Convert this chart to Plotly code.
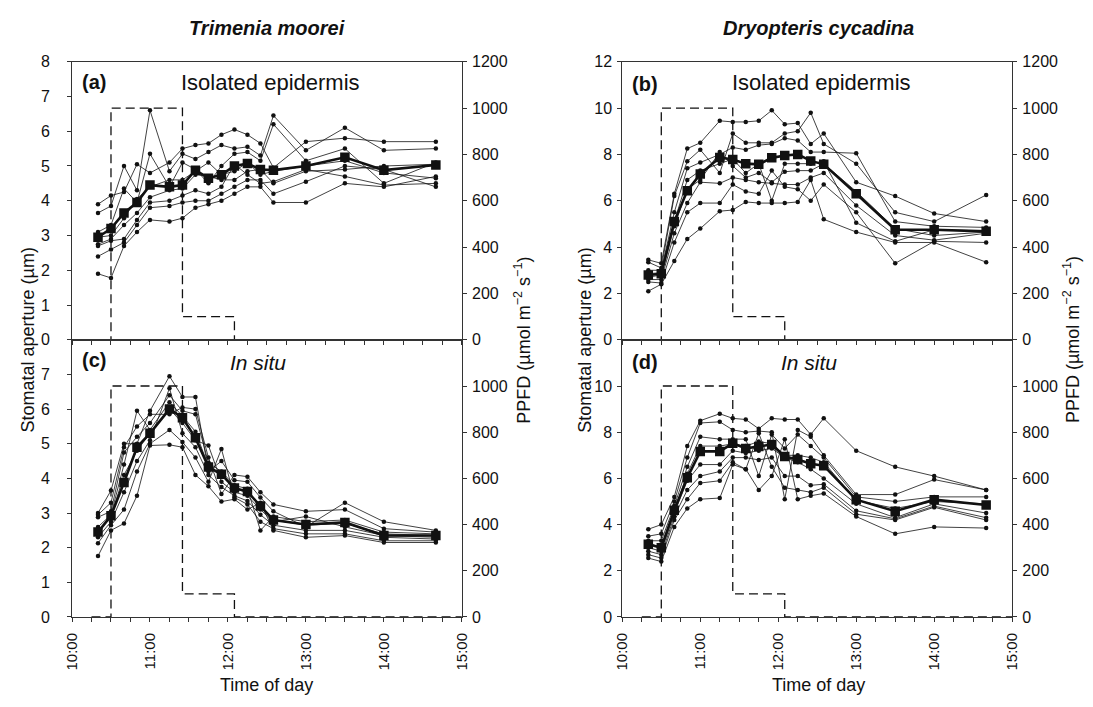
import plotly.graph_objects as go

W, H = 1093, 707

# ---------------- data ----------------
sample_times = ["10:20", "10:30", "10:40", "10:50", "11:00", "11:15", "11:25", "11:35", "11:45",
                "11:55", "12:05", "12:15", "12:25", "12:35", "13:00", "13:30", "14:00", "14:40"]

ppfd_times = ["10:15", "10:30", "10:30", "11:25", "11:25", "12:05", "12:05", "15:00"]
ppfd_values = [0, 0, 1000, 1000, 100, 100, 0, 0]

hour_ticks = ["10:00", "11:00", "12:00", "13:00", "14:00", "15:00"]

# (a) Trimenia moorei, isolated epidermis
a_individual = [
    [3.9, 4.15, 4.25, 5.05, 4.8, 5.1, 5.5, 5.6, 5.65, 5.9, 6.05, 5.9, 5.65, 4.95, 5.7, 5.8, 5.7, 5.7],
    [3.65, 3.85, 5.0, 4.3, 6.6, 4.85, 5.35, 5.2, 5.4, 5.6, 5.5, 5.55, 5.3, 6.45, 5.45, 6.1, 5.45, 5.5],
    [3.1, 3.3, 4.35, 3.95, 5.35, 4.4, 5.1, 4.9, 4.5, 5.0, 5.35, 5.4, 5.15, 6.2, 5.15, 5.5, 4.5, 5.1],
    [2.95, 3.0, 3.5, 4.05, 4.4, 4.6, 4.6, 4.85, 5.1, 4.75, 4.85, 5.1, 4.75, 4.85, 5.0, 5.15, 4.8, 4.65],
    [2.75, 2.9, 3.3, 3.65, 4.1, 4.3, 4.35, 4.75, 4.7, 4.6, 4.6, 4.85, 4.9, 4.5, 4.85, 4.9, 5.0, 5.05],
    [2.7, 2.85, 2.9, 3.45, 3.95, 4.0, 4.15, 4.3, 4.2, 4.4, 5.05, 4.75, 4.5, 4.55, 4.9, 4.7, 4.45, 4.5],
    [2.4, 2.6, 2.8, 3.3, 3.8, 3.85, 3.95, 4.0, 4.0, 4.2, 4.4, 4.6, 4.6, 4.2, 4.55, 5.0, 4.9, 4.4],
    [1.9, 1.78, 2.7, 3.1, 3.45, 3.4, 3.5, 3.8, 3.9, 4.0, 4.2, 4.4, 4.4, 3.95, 3.95, 4.5, 4.4, 4.7],
]
a_mean = [2.95, 3.2, 3.65, 3.95, 4.45, 4.4, 4.45, 4.88, 4.65, 4.75, 5.0, 5.07, 4.9, 4.88, 5.0, 5.25, 4.88, 5.03]

# (c) Trimenia moorei, in situ
c_individual = [
    [3.0, 3.65, 5.0, 5.0, 5.95, 6.95, 6.35, 6.35, 4.2, 4.5, 3.95, 3.9, 3.45, 3.05, 2.6, 3.3, 2.75, 2.5],
    [2.95, 3.3, 4.9, 5.5, 5.85, 5.85, 6.05, 6.0, 4.6, 3.55, 4.1, 4.05, 3.6, 3.25, 3.05, 3.1, 2.55, 2.45],
    [2.88, 3.05, 4.75, 5.2, 5.6, 6.4, 5.95, 5.85, 4.45, 4.2, 3.8, 3.7, 2.5, 2.9, 2.75, 2.8, 2.45, 2.4],
    [2.6, 2.95, 4.4, 5.95, 5.4, 6.2, 5.8, 5.35, 4.35, 4.1, 3.7, 3.6, 3.2, 2.8, 2.65, 2.7, 2.4, 2.35],
    [2.45, 2.9, 4.1, 4.8, 5.3, 6.0, 5.6, 5.1, 4.95, 3.9, 3.6, 3.5, 3.1, 2.75, 2.9, 2.6, 2.35, 2.3],
    [2.3, 2.75, 3.6, 4.5, 5.1, 6.6, 5.3, 4.9, 4.1, 3.75, 3.5, 3.35, 2.95, 2.65, 2.5, 2.5, 2.3, 2.25],
    [2.13, 2.65, 3.1, 4.2, 5.0, 5.4, 5.05, 4.6, 3.9, 4.85, 3.45, 3.25, 2.75, 2.55, 2.4, 2.4, 2.2, 2.2],
    [1.76, 2.5, 2.7, 3.5, 4.95, 4.97, 4.9, 4.1, 3.77, 3.33, 3.4, 3.1, 3.3, 2.5, 2.3, 2.35, 2.15, 2.15],
]
c_mean = [2.45, 2.92, 3.88, 4.9, 5.3, 6.0, 5.75, 5.17, 4.33, 4.12, 3.72, 3.62, 3.2, 2.8, 2.67, 2.73, 2.35, 2.35]

# (b) Dryopteris cycadina, isolated epidermis
b_individual = [
    [3.45, 3.3, 6.3, 8.25, 8.5, 9.45, 9.4, 9.4, 9.45, 9.9, 9.3, 9.35, 8.45, 8.9, 6.8, 6.2, 5.45, 5.1],
    [3.35, 3.1, 6.2, 7.7, 8.2, 7.2, 8.9, 8.5, 8.5, 8.5, 8.9, 9.0, 9.8, 8.45, 7.6, 5.5, 5.1, 6.25],
    [3.0, 3.0, 5.5, 7.4, 7.65, 8.0, 8.3, 8.2, 8.4, 8.45, 8.7, 8.6, 8.1, 8.1, 8.05, 5.1, 4.9, 4.85],
    [2.85, 2.9, 5.1, 6.9, 7.3, 7.6, 7.8, 7.2, 7.6, 6.0, 7.6, 7.6, 7.6, 7.7, 5.05, 4.25, 4.75, 4.7],
    [2.7, 2.8, 4.9, 6.5, 6.9, 8.1, 7.5, 7.0, 7.2, 6.8, 7.25, 7.3, 7.3, 7.6, 6.4, 4.8, 4.5, 4.65],
    [2.6, 2.6, 4.6, 5.9, 6.8, 6.75, 7.0, 6.9, 6.8, 6.75, 6.7, 6.7, 7.0, 7.2, 5.8, 4.5, 4.3, 4.6],
    [2.5, 2.45, 4.2, 5.5, 5.9, 5.9, 6.7, 6.4, 6.3, 7.3, 6.6, 6.5, 6.0, 6.7, 5.5, 3.3, 4.25, 4.2],
    [2.1, 2.4, 3.4, 4.35, 4.8, 5.55, 5.6, 5.95, 5.9, 5.9, 5.9, 5.95, 6.9, 5.2, 4.65, 4.2, 4.2, 3.35],
]
b_mean = [2.8, 2.85, 5.1, 6.43, 7.15, 7.87, 7.78, 7.6, 7.57, 7.85, 7.95, 8.0, 7.72, 7.57, 6.3, 4.75, 4.75, 4.68]

# (d) Dryopteris cycadina, in situ
d_individual = [
    [3.8, 4.0, 5.2, 7.4, 8.5, 8.8, 8.6, 8.55, 8.15, 8.6, 8.55, 8.55, 7.9, 8.6, 7.2, 6.5, 6.1, 5.5],
    [3.5, 3.6, 5.0, 6.9, 8.4, 8.45, 8.1, 8.0, 8.05, 8.0, 5.1, 8.1, 7.8, 7.0, 5.3, 5.3, 5.95, 5.5],
    [3.3, 3.3, 4.8, 6.5, 7.8, 7.7, 7.7, 7.7, 6.1, 7.9, 7.3, 7.9, 7.4, 6.9, 5.2, 5.0, 5.2, 5.2],
    [3.2, 3.0, 4.6, 6.2, 7.4, 7.4, 7.5, 7.4, 7.6, 7.5, 7.0, 7.0, 6.9, 6.7, 5.05, 4.7, 5.0, 4.9],
    [3.0, 2.85, 4.5, 5.9, 6.6, 6.6, 7.2, 7.1, 7.2, 7.3, 6.9, 6.7, 6.4, 6.0, 4.9, 4.3, 4.9, 4.5],
    [2.85, 2.7, 4.35, 5.5, 6.1, 6.3, 6.9, 6.9, 6.8, 6.9, 6.1, 6.1, 5.7, 5.75, 4.6, 4.25, 4.8, 4.3],
    [2.7, 2.55, 4.2, 5.1, 5.8, 5.9, 6.7, 6.4, 7.95, 6.5, 5.6, 5.5, 5.4, 5.6, 4.45, 4.2, 4.75, 4.2],
    [2.55, 2.4, 3.9, 4.7, 5.1, 5.15, 6.6, 6.4, 5.5, 6.1, 7.7, 5.1, 5.25, 5.35, 4.35, 3.6, 3.9, 3.85],
]
d_mean = [3.15, 3.0, 4.62, 6.03, 7.17, 7.17, 7.52, 7.3, 7.38, 7.47, 6.95, 6.82, 6.63, 6.55, 5.08, 4.58, 5.08, 4.85]


def to_hours(t):
    h, m = t.split(":")
    return int(h) + int(m) / 60.0


sx = [to_hours(t) for t in sample_times]
px_ = [to_hours(t) for t in ppfd_times]
hx = [to_hours(t) for t in hour_ticks]

FONT = "Liberation Sans, Arial, Helvetica, sans-serif"
INK = "#111111"
AX = "#333333"

fig = go.Figure()

panels = [
    (a_individual, a_mean, "x", "y", "y2"),
    (c_individual, c_mean, "x2", "y3", "y4"),
    (b_individual, b_mean, "x3", "y5", "y6"),
    (d_individual, d_mean, "x4", "y7", "y8"),
]

for ind, mean, xa, ya, ya2 in panels:
    for s in ind:
        fig.add_trace(go.Scatter(x=sx, y=s, xaxis=xa, yaxis=ya, mode="lines+markers",
                                 line=dict(color=INK, width=0.8),
                                 marker=dict(color=INK, size=4.5), hoverinfo="skip"))
    fig.add_trace(go.Scatter(x=sx, y=mean, xaxis=xa, yaxis=ya, mode="lines+markers",
                             line=dict(color=INK, width=2.6),
                             marker=dict(color=INK, size=9.5, symbol="square"), hoverinfo="skip"))
    fig.add_trace(go.Scatter(x=px_, y=ppfd_values, xaxis=xa, yaxis=ya2, mode="lines",
                             line=dict(color=INK, width=1.3, dash="9px,5px"), hoverinfo="skip"))

# geometry (pixels)
LX = [64, 460]
RX = [623, 1019]
TOPY = [55, 340]
BOTY = [340, 624]


def xd(p):
    return [p[0] / W, p[1] / W]


def yd(p):
    return [1 - p[1] / H, 1 - p[0] / H]


def xaxis(dom, anchor, labels):
    return dict(domain=xd(dom), anchor=anchor, range=[10, 15], tickvals=hx,
                ticktext=hour_ticks, showticklabels=labels, ticks="outside", ticklen=4,
                tickwidth=1, tickcolor=AX, ticklabelstandoff=5,
                minor=dict(dtick=0.25, tick0=10, ticks="outside", ticklen=4, tickwidth=1,
                           tickcolor=AX, showgrid=False),
                showline=True, linecolor=AX, linewidth=1, mirror=True, zeroline=False,
                showgrid=False, tickangle=-90,
                tickfont=dict(family=FONT, size=15, color=INK), fixedrange=True)


def xover(dom, over, anchor):
    return dict(domain=xd(dom), anchor=anchor, overlaying=over, range=[10, 15], tickvals=hx,
                showticklabels=False, ticks="inside", ticklen=4, tickwidth=1, tickcolor=AX,
                minor=dict(dtick=0.25, tick0=10, ticks="inside", ticklen=4, tickwidth=1,
                           tickcolor=AX, showgrid=False),
                showline=False, zeroline=False, showgrid=False)


def yaxis(dom, anchor, rng, vals, side="left", over=None, standoff=2):
    d = dict(domain=yd(dom), anchor=anchor, range=rng, tickvals=vals, side=side,
             ticks="outside", ticklen=4, tickwidth=1, tickcolor=AX, showline=True,
             linecolor=AX, linewidth=1, zeroline=False, showgrid=False,
             ticklabelstandoff=standoff,
             tickfont=dict(family=FONT, size=16, color=INK), fixedrange=True)
    if over:
        d["overlaying"] = over
    return d


ppfd_top = [0, 200, 400, 600, 800, 1000, 1200]
ppfd_bot = [0, 200, 400, 600, 800, 1000]

fig.update_layout(
    width=W, height=H, margin=dict(l=0, r=0, t=0, b=0),
    paper_bgcolor="white", plot_bgcolor="white", showlegend=False,
    font=dict(family=FONT, color=INK),
    xaxis=xaxis(LX, "y", False),
    xaxis2=xaxis(LX, "y3", True),
    xaxis3=xaxis(RX, "y5", False),
    xaxis4=xaxis(RX, "y7", True),
    xaxis5=xover(LX, "x", "y"),
    xaxis6=xover(LX, "x2", "y3"),
    xaxis7=xover(RX, "x3", "y5"),
    xaxis8=xover(RX, "x4", "y7"),
    yaxis=yaxis(TOPY, "x", [0, 8], list(range(0, 9)), standoff=14),
    yaxis2=yaxis(TOPY, "x", [0, 1200], ppfd_top, side="right", over="y"),
    yaxis3=yaxis(BOTY, "x2", [0, 8], list(range(0, 8)), standoff=14),
    yaxis4=yaxis(BOTY, "x2", [0, 1200], ppfd_bot, side="right", over="y3"),
    yaxis5=yaxis(TOPY, "x3", [0, 12], list(range(0, 13, 2))),
    yaxis6=yaxis(TOPY, "x3", [0, 1200], ppfd_top, side="right", over="y5"),
    yaxis7=yaxis(BOTY, "x4", [0, 12], list(range(0, 11, 2))),
    yaxis8=yaxis(BOTY, "x4", [0, 1200], ppfd_bot, side="right", over="y7"),
)


def ann(text, x, y, size, xanchor="center", angle=0):
    fig.add_annotation(text=text, x=x / W, y=1 - y / H, xref="paper", yref="paper",
                       showarrow=False, xanchor=xanchor, yanchor="middle", textangle=angle,
                       font=dict(family=FONT, size=size, color=INK))


ann("<b><i>Trimenia moorei</i></b>", 262, 20, 20)
ann("<b><i>Dryopteris cycadina</i></b>", 822, 20, 20)

ann("<b>(a)</b>", 72, 76, 20, xanchor="left")
ann("Isolated epidermis", 266, 76, 22)
ann("<b>(c)</b>", 72, 361, 20, xanchor="left")
ann("<i>In situ</i>", 253, 363, 21)
ann("<b>(b)</b>", 631, 78, 20, xanchor="left")
ann("Isolated epidermis", 825, 76, 22)
ann("<b>(d)</b>", 631, 363, 20, xanchor="left")
ann("<i>In situ</i>", 813, 363, 21)

ann("Stomatal aperture (µm)", 19, 340, 18, angle=-90)
ann("Stomatal aperture (µm)", 585, 340, 18, angle=-90)
ann("PPFD (µmol m<sup>−2</sup> s<sup>−1</sup>)", 522, 340, 18, angle=-90)
ann("PPFD (µmol m<sup>−2</sup> s<sup>−1</sup>)", 1080, 340, 18, angle=-90)

ann("Time of day", 262, 694, 18)
ann("Time of day", 822, 694, 18)

fig.write_html("out.html", config={"displayModeBar": False})
